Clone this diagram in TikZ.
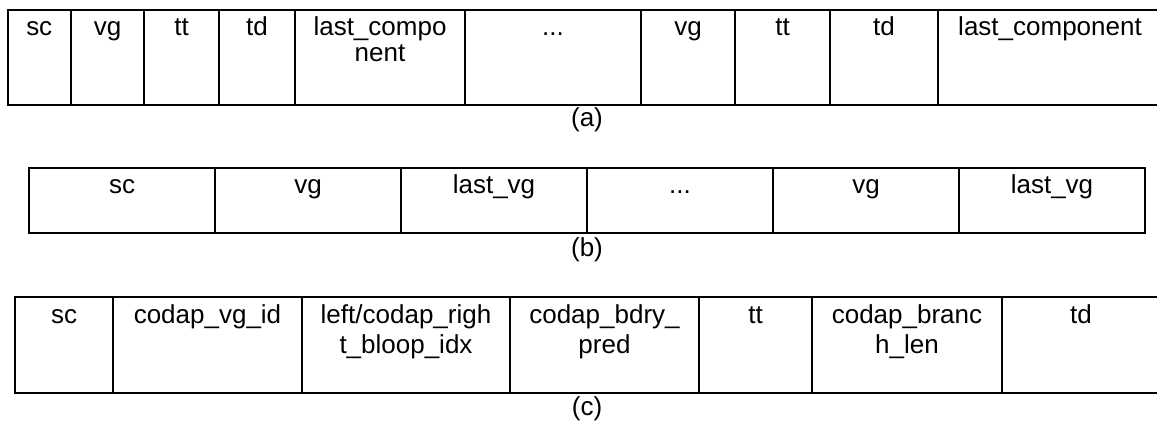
\documentclass[tikz,border=0pt]{standalone}
\usepackage{fontspec}
\setmainfont{Liberation Sans}
\usepackage{tikz}
\usetikzlibrary{positioning}
\newcommand{\fieldfont}{\fontsize{13}{12.6}\selectfont}
\newcommand{\fieldfontc}{\fontsize{13}{15.2}\selectfont}
\tikzstyle{field} = [rectangle, draw=black, line width=1pt, inner sep=0pt, outer sep=0pt, align=center, text height=13pt, font=\fieldfont]
\tikzstyle{fielda} = [field, text depth=34.5pt]
\tikzstyle{fieldb} = [field, text depth=19.5pt, text width=93pt]
\tikzstyle{fieldc} = [field, text depth=35pt, font=\fieldfontc]
\tikzstyle{caption} = [inner sep=0pt, font=\fieldfont]

\begin{document}
\begin{tikzpicture}[x=0.5pt, y=-0.5pt, node distance=0pt]
    \useasboundingbox (0,0) rectangle (1157,422);

    % Row (a)
    \node[fielda, text width=31.75pt, anchor=north west] (asc) at (7.5,10) {sc};
    \node[fielda, text width=36.5pt, right=of asc] (avg) {vg};
    \node[fielda, text width=37.5pt, right=of avg] (att) {tt};
    \node[fielda, text width=38pt, right=of att] (atd) {td};
    \node[fielda, text width=85pt, right=of atd] (alast) {last\_compo\\nent};
    \node[fielda, text width=88pt, right=of alast] (adots) {...};
    \node[fielda, text width=47pt, right=of adots] (avgn) {vg};
    \node[fielda, text width=47.5pt, right=of avgn] (attn) {tt};
    \node[fielda, text width=54pt, right=of attn] (atdn) {td};
    \node[fielda, text width=112pt, right=of atdn] (alastn) {last\_component};
    \node[caption] (capa) at (587,120) {(a)};

    % Row (b)
    \node[fieldb, anchor=north west] (bsc) at (29,168) {sc};
    \node[fieldb, right=of bsc] (bvg) {vg};
    \node[fieldb, right=of bvg] (blast) {last\_vg};
    \node[fieldb, right=of blast] (bdots) {...};
    \node[fieldb, right=of bdots] (bvgn) {vg};
    \node[fieldb, right=of bvgn] (blastn) {last\_vg};
    \node[caption] (capb) at (587,250) {(b)};

    % Row (c)
    \node[fieldc, text width=49pt, anchor=north west] (csc) at (15,297) {sc};
    \node[fieldc, text width=94.5pt, right=of csc] (cvgid) {codap\_vg\_id};
    \node[fieldc, text width=104pt, right=of cvgid] (cbloop) {left/codap\_righ\\t\_bloop\_idx};
    \node[fieldc, text width=94.5pt, right=of cbloop] (cbdry) {codap\_bdry\_\\pred};
    \node[fieldc, text width=56.5pt, right=of cbdry] (ctt) {tt};
    \node[fieldc, text width=95pt, right=of ctt] (cbranch) {codap\_branc\\h\_len};
    \node[fieldc, text width=79pt, right=of cbranch] (ctd) {td};
    \node[caption] (capc) at (587,409) {(c)};
\end{tikzpicture}
\end{document}
